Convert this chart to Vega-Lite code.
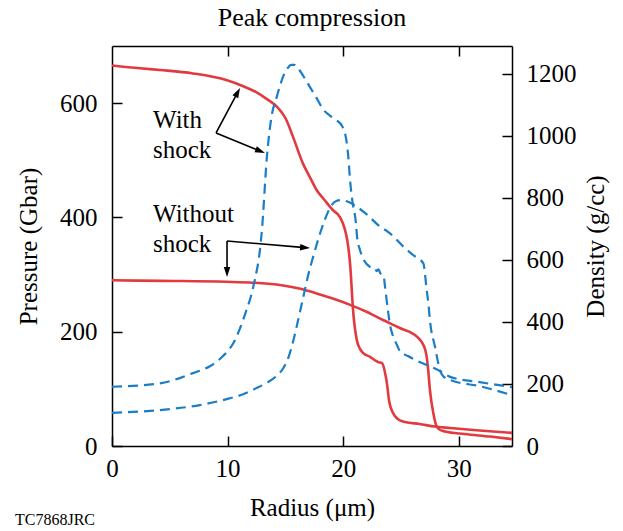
{
  "$schema": "https://vega.github.io/schema/vega-lite/v6.json",
  "width": 400,
  "height": 400,
  "autosize": {"type": "none"},
  "padding": {"left": 112, "top": 46, "right": 111, "bottom": 85},
  "title": {"text": "Peak compression", "fontSize": 26, "fontWeight": "normal", "font": "Liberation Serif", "color": "black", "offset": 14, "anchor": "middle", "frame": "group"},
  "config": {
    "font": "Liberation Serif",
    "view": {"stroke": null},
    "axis": {"grid": false, "domainColor": "black", "domainWidth": 1.5, "tickColor": "black", "tickWidth": 1.5, "labelColor": "black", "titleColor": "black", "labelFont": "Liberation Serif", "titleFont": "Liberation Serif", "labelFontSize": 25, "titleFontSize": 25, "titleFontWeight": "normal", "tickSize": -10, "labelFlush": false, "labelOverlap": false, "format": "d"}
  },
  "datasets": {
    "pressure": [
      {"s":"with","r":0,"p":666},{"s":"with","r":2.42,"p":661},{"s":"with","r":4.15,"p":658},{"s":"with","r":7.0,"p":652},{"s":"with","r":9.95,"p":640},{"s":"with","r":11.3,"p":630},{"s":"with","r":12.4,"p":620},{"s":"with","r":13.4,"p":607},{"s":"with","r":14.3,"p":593},{"s":"with","r":15.0,"p":574},{"s":"with","r":15.66,"p":541},{"s":"with","r":16.5,"p":495},{"s":"with","r":17.1,"p":471},{"s":"with","r":17.7,"p":448},{"s":"with","r":18.4,"p":430},{"s":"with","r":19.1,"p":413},{"s":"with","r":19.7,"p":401},{"s":"with","r":20.1,"p":382},{"s":"with","r":20.35,"p":360},{"s":"with","r":20.59,"p":320},{"s":"with","r":20.87,"p":233},{"s":"with","r":21.17,"p":186},{"s":"with","r":21.45,"p":170},{"s":"with","r":21.71,"p":163},{"s":"with","r":22.32,"p":156},{"s":"with","r":22.75,"p":150},{"s":"with","r":23.0,"p":147},{"s":"with","r":23.36,"p":145},{"s":"with","r":23.6,"p":130},{"s":"with","r":23.8,"p":107},{"s":"with","r":23.96,"p":80},{"s":"with","r":24.3,"p":58},{"s":"with","r":24.74,"p":47},{"s":"with","r":25.35,"p":42},{"s":"with","r":26.6,"p":38.5},{"s":"with","r":27.94,"p":34},{"s":"with","r":29.24,"p":31.5},{"s":"with","r":31.8,"p":27},{"s":"with","r":34.6,"p":23},
      {"s":"without","r":0,"p":290},{"s":"without","r":4.15,"p":289},{"s":"without","r":9.86,"p":287.5},{"s":"without","r":11.9,"p":286},{"s":"without","r":13.5,"p":284},{"s":"without","r":14.8,"p":281},{"s":"without","r":16.3,"p":275},{"s":"without","r":17.7,"p":267},{"s":"without","r":19.1,"p":258},{"s":"without","r":20.6,"p":247},{"s":"without","r":22.06,"p":234.5},{"s":"without","r":23.44,"p":220.5},{"s":"without","r":24.9,"p":206.5},{"s":"without","r":26.4,"p":191},{"s":"without","r":26.93,"p":177},{"s":"without","r":27.1,"p":168},{"s":"without","r":27.22,"p":156},{"s":"without","r":27.35,"p":133},{"s":"without","r":27.5,"p":98},{"s":"without","r":27.8,"p":57},{"s":"without","r":28.09,"p":34},{"s":"without","r":28.4,"p":28},{"s":"without","r":28.8,"p":25.5},{"s":"without","r":30.5,"p":21},{"s":"without","r":32.7,"p":16.5},{"s":"without","r":34.6,"p":12}
    ],
    "density": [
      {"s":"with","r":0,"d":191},{"s":"with","r":4.15,"d":202},{"s":"with","r":7.0,"d":235},{"s":"with","r":8.5,"d":258},{"s":"with","r":9.6,"d":290},{"s":"with","r":10.5,"d":332},{"s":"with","r":11.6,"d":435},{"s":"with","r":12.2,"d":510},{"s":"with","r":12.97,"d":697},{"s":"with","r":13.4,"d":933},{"s":"with","r":13.8,"d":1062},{"s":"with","r":14.25,"d":1126},{"s":"with","r":14.8,"d":1191},{"s":"with","r":15.2,"d":1219},{"s":"with","r":15.5,"d":1229},{"s":"with","r":15.8,"d":1229},{"s":"with","r":16.1,"d":1218},{"s":"with","r":16.6,"d":1190},{"s":"with","r":17.1,"d":1159},{"s":"with","r":17.7,"d":1122},{"s":"with","r":18.3,"d":1084},{"s":"with","r":18.9,"d":1064},{"s":"with","r":19.4,"d":1051},{"s":"with","r":19.9,"d":1032},{"s":"with","r":20.16,"d":1008},{"s":"with","r":20.33,"d":971},{"s":"with","r":20.44,"d":933},{"s":"with","r":20.59,"d":858},{"s":"with","r":20.82,"d":783},{"s":"with","r":21.1,"d":719},{"s":"with","r":21.2,"d":674},{"s":"with","r":21.45,"d":632},{"s":"with","r":21.7,"d":606},{"s":"with","r":22.3,"d":578},{"s":"with","r":22.75,"d":573},{"s":"with","r":22.9,"d":564},{"s":"with","r":23.05,"d":570},{"s":"with","r":23.2,"d":558},{"s":"with","r":23.5,"d":548},{"s":"with","r":23.6,"d":519},{"s":"with","r":23.9,"d":428},{"s":"with","r":24.05,"d":390},{"s":"with","r":24.33,"d":352},{"s":"with","r":24.65,"d":326},{"s":"with","r":24.9,"d":306},{"s":"with","r":25.6,"d":290},{"s":"with","r":26.36,"d":275},{"s":"with","r":27.8,"d":252},{"s":"with","r":28.6,"d":237},{"s":"with","r":29.24,"d":223},{"s":"with","r":31.8,"d":206},{"s":"with","r":34.6,"d":190},
      {"s":"without","r":0,"d":107},{"s":"without","r":4.15,"d":116},{"s":"without","r":7.6,"d":132},{"s":"without","r":10.0,"d":152},{"s":"without","r":11.36,"d":167},{"s":"without","r":12.4,"d":185},{"s":"without","r":13.4,"d":204},{"s":"without","r":14.2,"d":225},{"s":"without","r":14.8,"d":250},{"s":"without","r":15.3,"d":290},{"s":"without","r":15.7,"d":342},{"s":"without","r":16.1,"d":406},{"s":"without","r":16.55,"d":481},{"s":"without","r":16.95,"d":548},{"s":"without","r":17.4,"d":610},{"s":"without","r":18.0,"d":686},{"s":"without","r":18.4,"d":729},{"s":"without","r":19.0,"d":777},{"s":"without","r":19.4,"d":790},{"s":"without","r":19.87,"d":793},{"s":"without","r":20.24,"d":790},{"s":"without","r":20.7,"d":783},{"s":"without","r":21.2,"d":771},{"s":"without","r":21.74,"d":756},{"s":"without","r":22.3,"d":738},{"s":"without","r":23.0,"d":713},{"s":"without","r":24.05,"d":686},{"s":"without","r":25.2,"d":643},{"s":"without","r":26.04,"d":616},{"s":"without","r":26.93,"d":589},{"s":"without","r":27.22,"d":503},{"s":"without","r":27.38,"d":455},{"s":"without","r":27.5,"d":406},{"s":"without","r":27.94,"d":320},{"s":"without","r":28.37,"d":245},{"s":"without","r":28.63,"d":226},{"s":"without","r":29.24,"d":213},{"s":"without","r":31.8,"d":193},{"s":"without","r":34.6,"d":164}
    ],
    "notes": [
      {"r": 3.55, "p": 556.5, "text": "With\nshock"},
      {"r": 3.55, "p": 392, "text": "Without\nshock"}
    ],
    "footnote": [
      {"r": -8.39, "p": -138.3, "text": "TC7868JRC"}
    ],
    "arrows": [
      {"id": "a1", "r": 9.0, "p": 547.8, "r2": 10.87, "p2": 618.8},
      {"id": "a2", "r": 9.0, "p": 547.8, "r2": 12.83, "p2": 516.1},
      {"id": "a3", "r": 9.95, "p": 358.8, "r2": 9.95, "p2": 304.5},
      {"id": "a4", "r": 9.95, "p": 358.8, "r2": 16.7, "p2": 347.2}
    ],
    "heads": [
      {"id": "a1", "r": 10.87, "p": 618.8},
      {"id": "a2", "r": 12.83, "p": 516.1},
      {"id": "a3", "r": 9.95, "p": 304.5},
      {"id": "a4", "r": 16.7, "p": 347.2}
    ]
  },
  "layer": [
    {
      "encoding": {
        "x": {"field": "r", "type": "quantitative", "scale": {"domain": [0, 34.6], "nice": false, "zero": false},
              "axis": {"orient": "bottom", "values": [0, 10, 20, 30], "labelPadding": 20, "title": "Radius (μm)", "titlePadding": 14}},
        "y": {"field": "p", "type": "quantitative", "scale": {"domain": [0, 700], "nice": false},
              "axis": {"orient": "left", "values": [0, 200, 400, 600], "labelPadding": 25, "title": "Pressure (Gbar)", "titlePadding": 18}}
      },
      "layer": [
        {"data": {"name": "pressure"}, "mark": {"type": "line", "color": "#e23a3f", "strokeWidth": 2.6, "interpolate": "monotone"}, "encoding": {"detail": {"field": "s"}}},
        {"data": {"name": "notes"}, "mark": {"type": "text", "align": "left", "baseline": "alphabetic", "fontSize": 25, "lineBreak": "\n", "lineHeight": 30, "color": "black"}, "encoding": {"text": {"field": "text"}}},
        {"data": {"name": "footnote"}, "mark": {"type": "text", "align": "left", "baseline": "alphabetic", "fontSize": 16, "color": "black"}, "encoding": {"text": {"field": "text"}}},
        {"data": {"name": "arrows"}, "mark": {"type": "rule", "color": "black", "strokeWidth": 1.6}, "encoding": {"x2": {"field": "r2"}, "y2": {"field": "p2"}}},
        {"data": {"name": "heads"}, "transform": [{"filter": "datum.id == 'a1'"}], "mark": {"type": "point", "shape": "M0,-1L0.65,1L-0.65,1Z", "filled": true, "color": "black", "opacity": 1, "size": 100, "angle": 28}},
        {"data": {"name": "heads"}, "transform": [{"filter": "datum.id == 'a2'"}], "mark": {"type": "point", "shape": "M0,-1L0.65,1L-0.65,1Z", "filled": true, "color": "black", "opacity": 1, "size": 100, "angle": 112}},
        {"data": {"name": "heads"}, "transform": [{"filter": "datum.id == 'a3'"}], "mark": {"type": "point", "shape": "M0,-1L0.65,1L-0.65,1Z", "filled": true, "color": "black", "opacity": 1, "size": 100, "angle": 180}},
        {"data": {"name": "heads"}, "transform": [{"filter": "datum.id == 'a4'"}], "mark": {"type": "point", "shape": "M0,-1L0.65,1L-0.65,1Z", "filled": true, "color": "black", "opacity": 1, "size": 100, "angle": 95}}
      ]
    },
    {
      "encoding": {
        "x": {"field": "r", "type": "quantitative", "scale": {"domain": [0, 34.6], "nice": false, "zero": false},
              "axis": {"orient": "top", "values": [10, 20, 30], "labels": false, "title": null}},
        "y": {"field": "d", "type": "quantitative", "scale": {"domain": [0, 1290], "nice": false},
              "axis": {"orient": "right", "values": [0, 200, 400, 600, 800, 1000, 1200], "labelPadding": 24, "title": "Density (g/cc)", "titleAngle": -90, "titleBaseline": "top", "titlePadding": 7}}
      },
      "layer": [
        {"data": {"name": "density"}, "mark": {"type": "line", "color": "#1a7dc6", "strokeWidth": 2.2, "strokeDash": [10, 6], "interpolate": "monotone"}, "encoding": {"detail": {"field": "s"}}}
      ]
    }
  ],
  "resolve": {"scale": {"y": "independent"}, "axis": {"x": "independent", "y": "independent"}}
}
